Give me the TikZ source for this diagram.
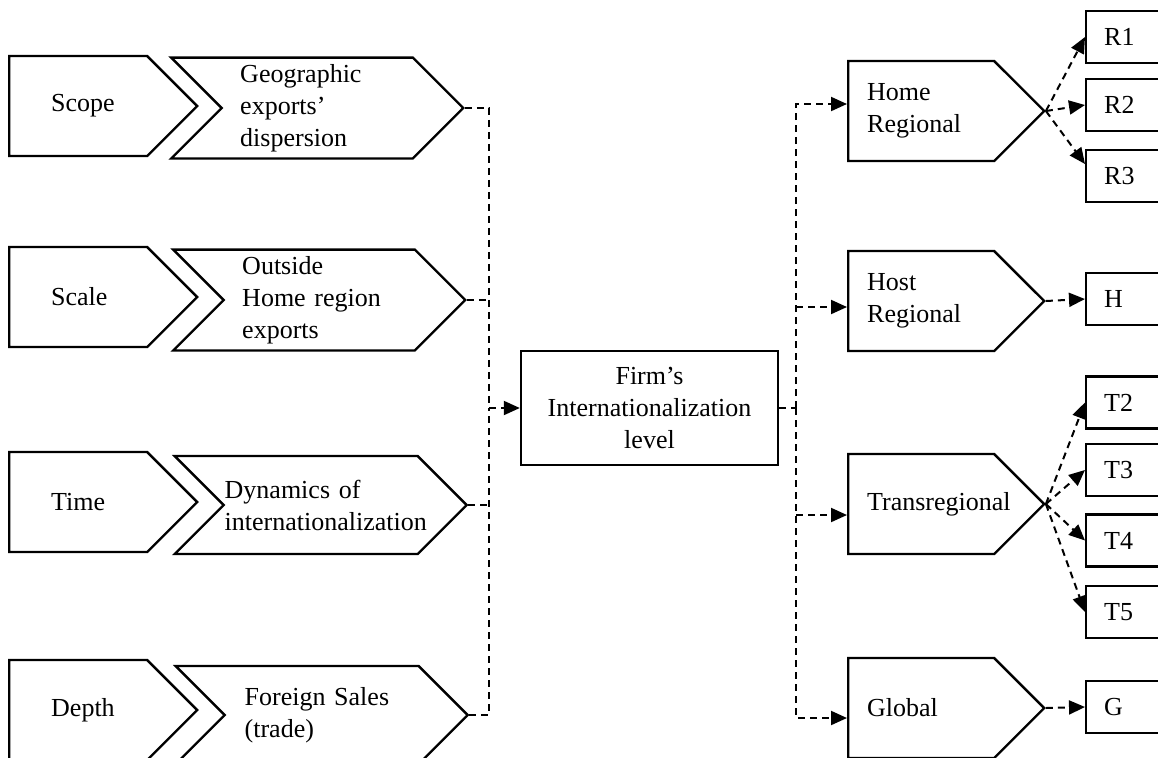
\documentclass[tikz,border=0pt]{standalone}
\usepackage{fontspec}
\setmainfont{Liberation Serif}
\usetikzlibrary{positioning, arrows.meta, shapes, shapes.symbols}
\tikzstyle{leftTag} = [
    signal,
    draw,
    signal to=east,
    signal pointer angle=90,
    line width=1.2pt,
    minimum width=94pt,
    minimum height=50pt,
    text width=27pt,
    align=left,
    anchor=west
    ]
\tikzstyle{midChevron} = [
    signal,
    draw,
    signal from=west,
    signal to=east,
    signal pointer angle=90,
    line width=1.2pt,
    minimum width=146pt,
    minimum height=49pt,
    text width=77pt,
    align=left,
    anchor=west
    ]
\tikzstyle{rightTag} = [
    signal,
    draw,
    signal to=east,
    signal pointer angle=90,
    line width=1.2pt,
    minimum width=98pt,
    minimum height=50pt,
    text width=54pt,
    align=left,
    anchor=west
    ]
\tikzstyle{levelBox} = [
    rectangle,
    draw,
    line width=1.2pt,
    minimum width=128.5pt,
    minimum height=57pt,
    text width=115pt,
    align=center
    ]
\tikzstyle{regionBox} = [
    rectangle,
    draw,
    line width=1.2pt,
    minimum height=26pt,
    text width=30pt,
    inner xsep=9pt,
    align=left,
    anchor=west
    ]
\tikzstyle{link} = [
    line width=1pt,
    dash pattern=on 3.5pt off 2.5pt
    ]
\tikzstyle{arrowTip} = [-{Triangle[length=8pt, width=7pt]}]

\begin{document}
\begin{tikzpicture}[x=0.5pt, y=-0.5pt, font=\fontsize{13}{16}\selectfont]
    \useasboundingbox (0,0) rectangle (1158,757);
    \clip (0,0) rectangle (1158,757);

    % dimensions of internationalization
    \node[leftTag] (scope) at (8,106) {Scope};
    \node[leftTag] (scale) at (8,297) {Scale};
    \node[leftTag] (time) at (8,502) {Time};
    \node[leftTag] (depth) at (8,710) {Depth};

    \node[midChevron] (geo) at (220,108) {Geographic\\exports'\\dispersion};
    \node[midChevron] (outs) at (222,300) {Outside\\Home region\\exports};
    \node[midChevron, text width=96pt, inner xsep=0pt] (dyn) at (222,505) {Dynamics of\\internationalization};
    \node[midChevron] (fsales) at (223,715) {Foreign Sales\\(trade)};

    % level
    \node[levelBox] (firm) at (649.5,408) {Firm's\\Internationalization\\level};
    \coordinate (jl) at (489,408);
    \coordinate (jr) at (796,408);

    % firm types
    \node[rightTag] (home) at (847,111) {Home\\Regional};
    \node[rightTag] (host) at (847,301) {Host\\Regional};
    \node[rightTag] (trans) at (847,504) {Transregional};
    \node[rightTag] (glob) at (847,708) {Global};

    % regions
    \node[regionBox] (r1) at (1085,37) {R1};
    \node[regionBox] (r2) at (1085,105) {R2};
    \node[regionBox] (r3) at (1085,176) {R3};
    \node[regionBox] (h) at (1085,299) {H};
    \node[regionBox] (t2) at (1085,402.5) {T2};
    \node[regionBox] (t3) at (1085,470) {T3};
    \node[regionBox] (t4) at (1085,540.5) {T4};
    \node[regionBox] (t5) at (1085,612) {T5};
    \node[regionBox] (g) at (1085,707) {G};

    % left connectors
    \draw[link] (geo.east) -| (jl);
    \draw[link] (fsales.east) -| (jl);
    \draw[link] (outs.east) -- (outs.east -| jl);
    \draw[link] (dyn.east) -- (dyn.east -| jl);
    \draw[link, arrowTip] (jl) -- (firm.west);

    % right connectors
    \draw[link] (firm.east) -- (jr);
    \draw[link, arrowTip] (jr) |- ([yshift=3.5pt]home.west);
    \draw[link, arrowTip] (jr |- host.west) ++(0,6) -- ([yshift=-3pt]host.west);
    \draw[link, arrowTip] (jr |- trans.west) ++(0,11) -- ([yshift=-5.5pt]trans.west);
    \draw[link, arrowTip] (jr) |- ([yshift=-5pt]glob.west);

    \draw[link, arrowTip] (home.east) -- (r1.west);
    \draw[link, arrowTip] (home.east) -- (r2.west);
    \draw[link, arrowTip] (home.east) -- ([yshift=6pt]r3.west);
    \draw[link, arrowTip] (host.east) -- (h.west);
    \draw[link, arrowTip] (trans.east) -- (t2.west);
    \draw[link, arrowTip] (trans.east) -- (t3.west);
    \draw[link, arrowTip] (trans.east) -- (t4.west);
    \draw[link, arrowTip] (trans.east) -- (t5.west);
    \draw[link, arrowTip] (glob.east) -- (g.west);
\end{tikzpicture}
\end{document}
